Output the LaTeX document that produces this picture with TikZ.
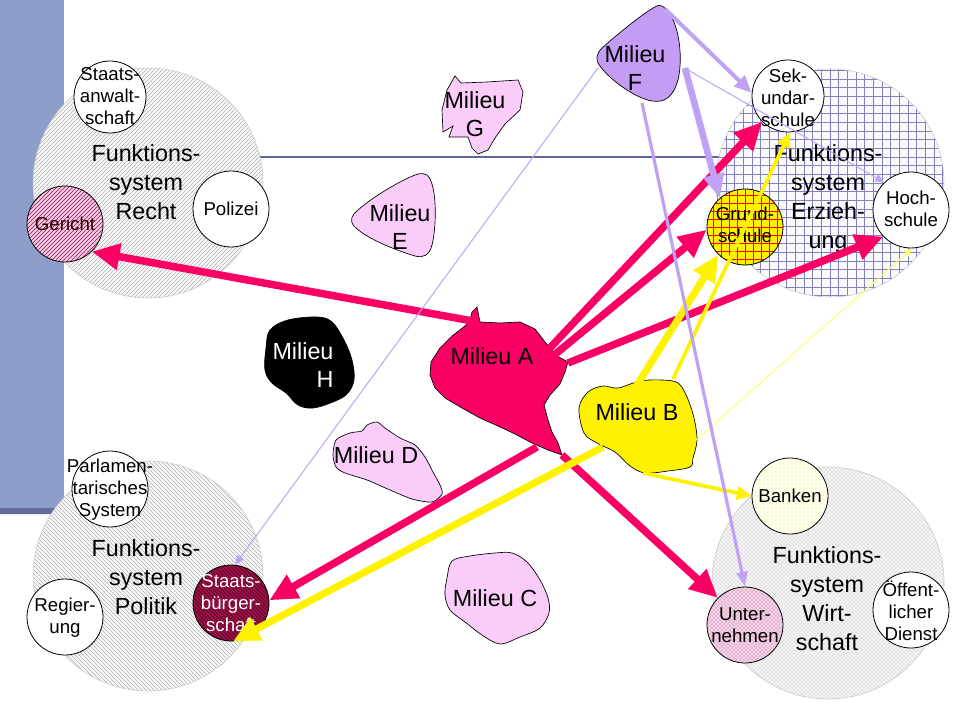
\documentclass[tikz,border=0pt]{standalone}
\usepackage{fontspec}
\setmainfont{Liberation Sans}
\usetikzlibrary{arrows.meta,patterns}
\definecolor{crim}{RGB}{250,0,100}
\definecolor{lav}{RGB}{192,162,245}
\definecolor{lavF}{RGB}{196,156,244}
\definecolor{pinkm}{RGB}{250,204,250}
\definecolor{barc}{RGB}{143,157,203}
\definecolor{barsh}{RGB}{100,108,155}
\definecolor{hline}{RGB}{98,102,160}
\definecolor{gridblue}{RGB}{130,130,190}
\definecolor{gerfill}{RGB}{246,204,228}
\definecolor{gerline}{RGB}{140,20,80}
\definecolor{stbfill}{RGB}{150,18,70}
\definecolor{stbline}{RGB}{95,0,40}
\definecolor{untfill}{RGB}{246,214,234}
\definecolor{untdot}{RGB}{165,60,110}
\definecolor{banfill}{RGB}{255,255,238}
\definecolor{bandot}{RGB}{238,232,120}
\definecolor{yelthin}{RGB}{255,255,110}
\begin{document}
\begin{tikzpicture}[x=0.75pt,y=-0.75pt,
  bigtxt/.style={font=\fontsize{17.5}{21.75}\selectfont, align=center, inner sep=0pt},
  smtxt/.style={font=\fontsize{14}{16.5}\selectfont, align=center, inner sep=0pt},
  miltxt/.style={font=\fontsize{17.5}{20.5}\selectfont, align=center, inner sep=0pt},
  bigcirc/.style={circle, inner sep=0pt, draw=gray!45, line width=0.4pt},
  smcirc/.style={circle, inner sep=0pt, minimum size=57pt, draw=black, line width=0.6pt},
  milieu/.style={draw=black, line width=0.5pt},
  erzgrid/.style={path picture={
    \foreach \k in {-14,...,14}{
      \draw[gridblue, line width=0.45pt] ([xshift={\k*6.5pt}]path picture bounding box.north) -- ([xshift={\k*6.5pt}]path picture bounding box.south);
      \draw[gridblue, line width=0.45pt] ([yshift={\k*6.5pt}]path picture bounding box.west) -- ([yshift={\k*6.5pt}]path picture bounding box.east);
    }}},
  grundgrid/.style={path picture={
    \foreach \k in {-5,...,5}{
      \draw[red, line width=0.55pt] ([xshift={\k*6pt}]path picture bounding box.north) -- ([xshift={\k*6pt}]path picture bounding box.south);
      \draw[red, line width=0.55pt] ([yshift={\k*6pt}]path picture bounding box.west) -- ([yshift={\k*6pt}]path picture bounding box.east);
    }}},
  crimar/.style={draw=crim, line width=5.6pt, -{Triangle[length=21pt,width=19pt]}},
  yelthick/.style={draw=yellow, line width=5.4pt, -{Triangle[length=20pt,width=18pt]}},
  yelmed/.style={draw=yellow, line width=2.8pt, -{Triangle[length=11pt,width=10pt]}},
  yelthinar/.style={draw=yelthin, line width=0.75pt, -{Triangle[length=6pt,width=5pt]}},
  lavthick/.style={draw=lav, line width=5pt, -{Triangle[length=18pt,width=15pt]}},
  lavmed/.style={draw=lav, line width=3pt, -{Triangle[length=13pt,width=11pt]}},
  lavsm/.style={draw=lav, line width=2.4pt, -{Triangle[length=11pt,width=8pt]}},
  lavthin/.style={draw=lav, line width=0.75pt, -{Triangle[length=7pt,width=6pt]}}
]
\useasboundingbox (0,0) rectangle (960,720);
\fill[white] (0,0) rectangle (960,720);
% slide template
\fill[barc] (0,0) rectangle (64,510);
\fill[barsh] (0,508) -- (58,508) -- (53,514) -- (0,514) -- cycle;
\draw[hline, line width=1.5pt] (148,157) -- (830,157);

% big circles
\node[bigcirc, minimum size=172.5pt, pattern=north east lines, pattern color=gray!60, preaction={fill=gray!5}] (recht) at (148,183) {};
\node[bigcirc, minimum size=172.5pt, pattern=north west lines, pattern color=gray!60, preaction={fill=gray!5}] (politik) at (148,576) {};
\node[bigcirc, minimum size=171pt, fill=gray!5, erzgrid] (erz) at (830,183) {};
\node[bigcirc, minimum size=174pt, pattern=crosshatch dots, pattern color=gray!75, preaction={fill=gray!6}] (wirt) at (828,583) {};

% small circles
\node[smcirc, minimum size=54pt, fill=white] (staw) at (110,97) {};
\node[smcirc, pattern=north east lines, pattern color=gerline, preaction={fill=gerfill}] (ger) at (65,224) {};
\node[smcirc, fill=white] (pol) at (231,209) {};
\node[smcirc, fill=white] (parl) at (110,489) {};
\node[smcirc, fill=white] (reg) at (65,617) {};
\node[smcirc, pattern=north west lines, pattern color=stbline, preaction={fill=stbfill}] (stb) at (231,603) {};
\node[smcirc, minimum size=54pt, fill=white] (sek) at (788,96) {};
\node[smcirc, fill=yellow, grundgrid] (grund) at (745,227) {};
\node[smcirc, fill=white] (hoch) at (911,210) {};
\node[smcirc, pattern=dots, pattern color=bandot, preaction={fill=banfill}] (ban) at (790,496) {};
\node[smcirc, pattern=crosshatch dots, pattern color=untdot, preaction={fill=untfill}] (unt) at (745,625) {};
\node[smcirc, fill=white] (oed) at (911,610) {};

% big labels
\node[bigtxt] (t-recht) at (146,182) {Funktions-\\system\\Recht};
\node[bigtxt] (t-politik) at (146,577) {Funktions-\\system\\Politik};
\node[bigtxt] (t-erz) at (828,199) {Funktions-\\system\\Erzieh-\\ung};
\node[bigtxt] (t-wirt) at (827,599) {Funktions-\\system\\Wirt-\\schaft};

% small labels
\node[smtxt] (t-staw) at (110,96) {Staats-\\anwalt-\\schaft};
\node[smtxt, text=black!85!red] (t-ger) at (65,224) {Gericht};
\node[smtxt] (t-pol) at (231,209) {Polizei};
\node[smtxt] (t-parl) at (110,490) {Parlamen-\\tarisches\\System};
\node[smtxt] (t-reg) at (65,618) {Regier-\\ung};
\node[smtxt, text=white] (t-stb) at (231,603) {Staats-\\bürger-\\schaft};
\node[smtxt] (t-sek) at (788,98) {Sek-\\undar-\\schule};
\node[smtxt] (t-grund) at (745,225) {Grund-\\schule};
\node[smtxt] (t-hoch) at (911,209) {Hoch-\\schule};
\node[smtxt] (t-ban) at (790,496) {Banken};
\node[smtxt] (t-unt) at (745,625) {Unter-\\nehmen};
\node[smtxt] (t-oed) at (911,611) {Öffent-\\licher\\Dienst};

% milieus
\filldraw[milieu, fill=crim] (477,307) -- (480,322) -- (500,323) -- (520,322) -- (535,329) -- (545,342) -- (557,356) -- (568,362) -- (565,372) -- (560,384) -- (550,395) -- (544,405) -- (548,420) -- (552,432) -- (558,443) -- (562,455) -- (548,450) -- (532,443) -- (515,434) -- (498,426) -- (480,418) -- (462,408) -- (445,398) -- (435,388) -- (430,375) -- (431,362) -- (440,348) -- (452,336) -- (465,326) -- (470,320) -- (472,312) -- cycle;
\filldraw[milieu, fill=yellow] plot[smooth cycle, tension=0.55] coordinates {(579,408) (588,392) (603,386) (618,388) (640,381) (662,380) (678,383) (687,397) (694,418) (697,440) (693,458) (690,467) (668,471) (645,473) (630,466) (615,452) (597,443) (584,433)};
\filldraw[milieu, fill=pinkm] plot[smooth cycle, tension=0.55] coordinates {(447,578) (452,561) (470,556) (495,553) (512,553) (527,562) (540,580) (548,598) (549,613) (540,628) (520,637) (500,644) (482,635) (465,622) (450,610) (445,595)};
\filldraw[milieu, fill=pinkm] plot[smooth cycle, tension=0.45] coordinates {(367,425) (377,422) (385,428) (400,438) (415,445) (425,457) (433,472) (440,485) (442,494) (432,502) (412,499) (390,490) (367,480) (345,473) (336,467) (333,455) (336,440) (350,433) (362,431)};
\filldraw[milieu, fill=pinkm] (427,175) .. controls (437,183) and (437,225) .. (432,245) .. controls (429,256) and (423,258) .. (415,256) .. controls (395,250) and (365,238) .. (354,226) .. controls (349,220) and (352,215) .. (358,210) .. controls (375,195) and (405,178) .. (418,174) .. controls (422,173) and (425,174) .. cycle;
\filldraw[milieu, fill=lavF] (662,6) .. controls (678,15) and (684,55) .. (678,80) .. controls (673,97) and (665,103) .. (652,101) .. controls (635,98) and (610,80) .. (600,66) .. controls (595,60) and (596,54) .. (602,48) .. controls (620,32) and (645,12) .. (655,7) .. controls (658,5) and (660,5) .. cycle;
\filldraw[milieu, fill=pinkm] (455,76) -- (461,83) -- (487,82) -- (518,80) -- (523,92) -- (520,110) -- (505,124) -- (495,138) -- (488,150) -- (478,154) -- (472,148) -- (468,137) -- (449,137) -- (453,126) -- (443,132) -- (442,110) -- (447,90) -- cycle;
\filldraw[milieu, fill=black] plot[smooth cycle, tension=0.6] coordinates {(270,330) (288,320) (317,317) (332,322) (344,340) (352,360) (354,380) (347,394) (333,402) (313,408) (298,405) (286,393) (272,383) (265,370) (266,348)};

\node[miltxt] (m-a) at (492,356) {Milieu A};
\node[miltxt] (m-b) at (637,412) {Milieu B};
\node[miltxt] (m-c) at (495,598) {Milieu C};
\node[miltxt] (m-d) at (376,455) {Milieu D};
\node[miltxt] (m-e) at (400,227) {Milieu\\E};
\node[miltxt] (m-f) at (635,68) {Milieu\\F};
\node[miltxt] (m-g) at (475,114) {Milieu\\G};
\node[miltxt, text=white, align=right] (m-h) at (303,365) {Milieu\\H};

% arrow start points
\coordinate (a0) at (478,322);
\coordinate (a1) at (548,350);
\coordinate (a2) at (553,356);
\coordinate (a3) at (568,363);
\coordinate (a4) at (537,447);
\coordinate (a5) at (562,455);
\coordinate (b0) at (603,447);
\coordinate (b1) at (637,385);
\coordinate (b2) at (673,379);
\coordinate (b3) at (696,440);
\coordinate (b4) at (643,473);
\coordinate (f0) at (665,9);
\coordinate (f1) at (685,68);
\coordinate (f2) at (688,70);
\coordinate (f3) at (642,103);
\coordinate (f4) at (598,68);

% crimson arrows (Milieu A)
\draw[crimar] (a0) -- (ger.-46);
\draw[crimar] (a1) -- (sek.-135);
\draw[crimar] (a2) -- (grund.184);
\draw[crimar] (a3) -- (hoch.-136);
\draw[crimar] (a4) -- (stb.4);
\draw[crimar] (a5) -- (unt.135);
% yellow arrows (Milieu B)
\draw[yelthick] (b0) -- (stb.-87);
\draw[yelthick] (b1) -- (grund.-134);
\draw[yelmed] (b2) -- (sek.-87);
\draw[yelthinar] (b3) -- (hoch.-88);
\draw[yelmed] (b4) -- (ban.180);
% lavender arrows (Milieu F)
\draw[lavmed] (f0) -- (sek.175);
\draw[lavthick] (f1) -- (grund.131);
\draw[lavthin] (f2) -- (hoch.134);
\draw[lavsm] (f3) -- (unt.90);
\draw[lavthin] (f4) -- (stb.84);
\end{tikzpicture}
\end{document}
